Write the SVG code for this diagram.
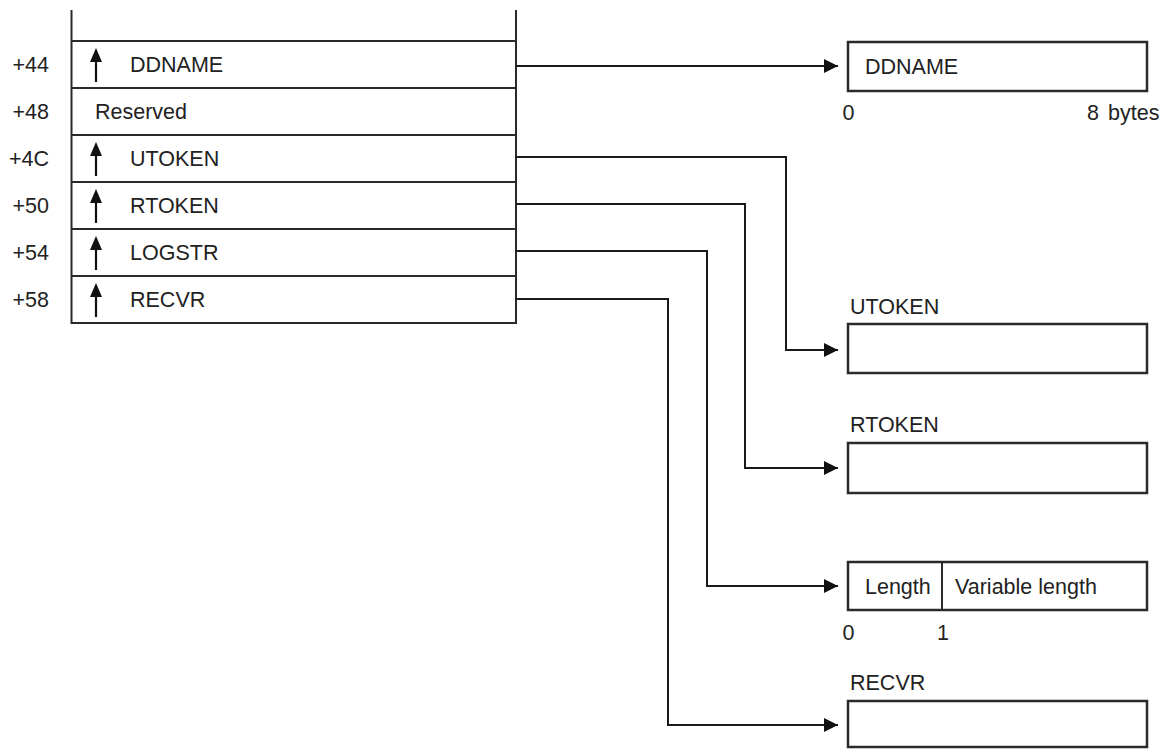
<svg xmlns="http://www.w3.org/2000/svg" width="1167" height="749" viewBox="0 0 1167 749">
<style>
  text { font-family: "Liberation Sans", Arial, sans-serif; font-size: 21.5px; fill: #222; }
  .off { text-anchor: end; }
  .mid { text-anchor: middle; }
  .ln { fill: none; stroke: #2a2a2a; stroke-width: 2; }
  .box { fill: #fff; stroke: #2a2a2a; stroke-width: 2.5; }
  .conn { fill: none; stroke: #1a1a1a; stroke-width: 2; marker-end: url(#ah); }
  .up { fill: #111; }
</style>
<defs>
  <marker id="ah" markerUnits="userSpaceOnUse" markerWidth="14" markerHeight="14" refX="14" refY="7" orient="auto">
    <path d="M0,0 L14,7 L0,14 z" fill="#111"/>
  </marker>
  <g id="uparrow">
    <path d="M0,0 L6,14 L-6,14 z" class="up"/>
    <line x1="0" y1="12" x2="0" y2="34" stroke="#111" stroke-width="2.2"/>
  </g>
</defs>

<g id="table">
  <line class="ln" x1="71.5" y1="10" x2="71.5" y2="324"/>
  <line class="ln" x1="516" y1="10" x2="516" y2="324"/>
  <line class="ln" x1="71.5" y1="41" x2="516" y2="41"/>
  <line class="ln" x1="71.5" y1="88" x2="516" y2="88"/>
  <line class="ln" x1="71.5" y1="135" x2="516" y2="135"/>
  <line class="ln" x1="71.5" y1="182" x2="516" y2="182"/>
  <line class="ln" x1="71.5" y1="229" x2="516" y2="229"/>
  <line class="ln" x1="71.5" y1="276" x2="516" y2="276"/>
  <line class="ln" x1="71.5" y1="323" x2="516" y2="323"/>
</g>

<g id="row-ddname">
  <text class="off" x="49" y="72">+44</text>
  <use href="#uparrow" x="96" y="48"/>
  <text x="130" y="72">DDNAME</text>
</g>
<g id="row-reserved">
  <text class="off" x="49" y="119">+48</text>
  <text x="95" y="119">Reserved</text>
</g>
<g id="row-utoken">
  <text class="off" x="49" y="166">+4C</text>
  <use href="#uparrow" x="96" y="142"/>
  <text x="130" y="166">UTOKEN</text>
</g>
<g id="row-rtoken">
  <text class="off" x="49" y="213">+50</text>
  <use href="#uparrow" x="96" y="189"/>
  <text x="130" y="213">RTOKEN</text>
</g>
<g id="row-logstr">
  <text class="off" x="49" y="260">+54</text>
  <use href="#uparrow" x="96" y="236"/>
  <text x="130" y="260">LOGSTR</text>
</g>
<g id="row-recvr">
  <text class="off" x="49" y="307">+58</text>
  <use href="#uparrow" x="96" y="283"/>
  <text x="130" y="307">RECVR</text>
</g>

<g id="ddname-area">
  <rect class="box" x="848" y="42" width="299" height="49"/>
  <text x="865" y="74">DDNAME</text>
  <text class="mid" x="848.5" y="120">0</text>
  <text x="1087" y="120">8</text>
  <text x="1108" y="120">bytes</text>
</g>

<g id="utoken-area">
  <text x="850" y="314">UTOKEN</text>
  <rect class="box" x="848" y="324" width="299" height="49"/>
</g>

<g id="rtoken-area">
  <text x="850" y="432">RTOKEN</text>
  <rect class="box" x="848" y="443" width="299" height="50"/>
</g>

<g id="logstr-area">
  <rect class="box" x="848" y="562" width="299" height="48"/>
  <line class="ln" x1="942" y1="562" x2="942" y2="610"/>
  <text x="865" y="594">Length</text>
  <text x="955" y="594">Variable length</text>
  <text class="mid" x="848.5" y="640">0</text>
  <text class="mid" x="943" y="640">1</text>
</g>

<g id="recvr-area">
  <text x="850" y="690">RECVR</text>
  <rect class="box" x="848" y="701" width="299" height="46"/>
</g>

<g id="connectors">
  <path class="conn" d="M516,66 H838"/>
  <path class="conn" d="M516,157 H786 V350 H838"/>
  <path class="conn" d="M516,204 H745 V468 H838"/>
  <path class="conn" d="M516,251 H707 V586 H838"/>
  <path class="conn" d="M516,299 H668 V725 H838"/>
</g>
</svg>
